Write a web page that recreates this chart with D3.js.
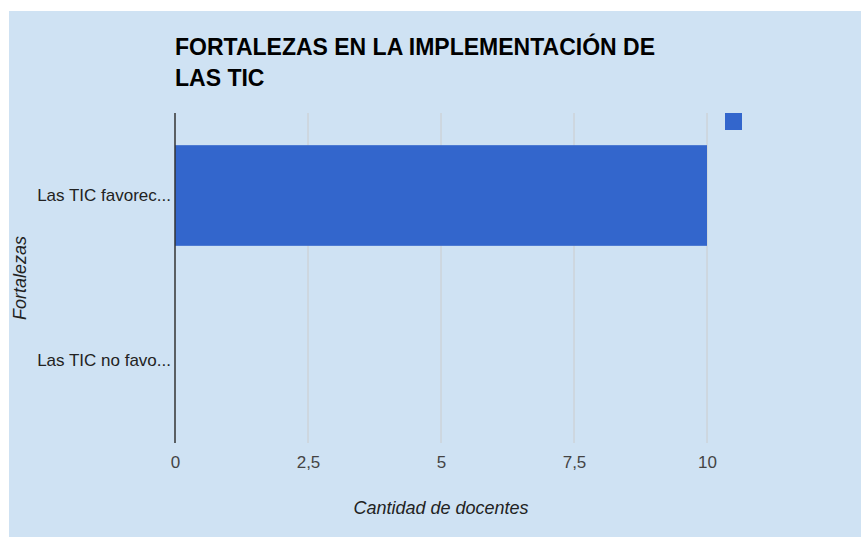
<!DOCTYPE html>
<html><head><meta charset="utf-8">
<script src="https://cdn.jsdelivr.net/npm/d3@7"></script>
<style>html,body{margin:0;padding:0;background:#fff;}svg{display:block;font-family:"Liberation Sans",Arial,sans-serif;}</style>
</head><body>
<svg id="c" width="861" height="537"></svg>
<script>
const categories = ["Las TIC favorec...", "Las TIC no favo..."];
const values = [10, 0];
const xTicks = [0, 2.5, 5, 7.5, 10];
const titleLines = ["FORTALEZAS EN LA IMPLEMENTACIÓN DE", "LAS TIC"];
const xTitle = "Cantidad de docentes";
const yTitle = "Fortalezas";

(function () {
const svg = d3.select("#c");
svg.append("rect").attr("x", 9).attr("y", 11).attr("width", 852).attr("height", 526).attr("fill", "#cfe2f3");

const pL = 175, pR = 707, pT = 113, pB = 443;
const x = d3.scaleLinear().domain([0, 10]).range([pL, pR]);
const y = d3.scaleBand().domain(categories).range([pT, pB]).paddingInner(0.39).paddingOuter(0.195);

// gridlines
svg.append("g").selectAll("line").data(xTicks.slice(1)).join("line")
  .attr("x1", d => x(d)).attr("x2", d => x(d)).attr("y1", pT).attr("y2", pB)
  .attr("stroke", "#cccccc").attr("stroke-width", 1);

// bars
svg.append("g").selectAll("rect").data(values).join("rect")
  .attr("x", x(0)).attr("y", (d, i) => y(categories[i]))
  .attr("width", d => x(d) - x(0)).attr("height", y.bandwidth())
  .attr("fill", "#3366cc");

// x axis
const xAxis = d3.axisBottom(x).tickValues(xTicks).tickSize(0).tickPadding(13)
  .tickFormat(d => String(d).replace(".", ","));
const gx = svg.append("g").attr("transform", `translate(0,${pB})`).call(xAxis);
gx.select(".domain").remove();
gx.selectAll("text").attr("font-size", 17).attr("fill", "#444").attr("font-family", "Liberation Sans, Arial, sans-serif");

// y axis
const yAxis = d3.axisLeft(y).tickSize(0).tickPadding(4);
const gy = svg.append("g").attr("transform", `translate(${pL},0)`).call(yAxis);
gy.select(".domain").remove();
gy.selectAll("text").attr("font-size", 17).attr("fill", "#222").attr("font-family", "Liberation Sans, Arial, sans-serif");

// baseline axis line
svg.append("line").attr("x1", x(0)).attr("x2", x(0)).attr("y1", pT).attr("y2", pB)
  .attr("stroke", "#333").attr("stroke-width", 1.5);

// title
const t = svg.append("text").attr("x", pL).attr("font-size", 23).attr("font-weight", "bold").attr("fill", "#000");
titleLines.forEach((l, i) => t.append("tspan").attr("x", pL).attr("y", 55 + i * 31).text(l));

// axis titles
svg.append("text").attr("x", (pL + pR) / 2).attr("y", 514).attr("text-anchor", "middle")
  .attr("font-size", 18).attr("font-style", "italic").attr("fill", "#222").text(xTitle);
svg.append("text").attr("transform", "translate(26,278) rotate(-90)").attr("text-anchor", "middle")
  .attr("font-size", 18).attr("font-style", "italic").attr("fill", "#222").text(yTitle);

// legend square
svg.append("rect").attr("x", 725).attr("y", 113).attr("width", 17).attr("height", 17).attr("fill", "#3366cc");
})();
</script>
</body></html>
